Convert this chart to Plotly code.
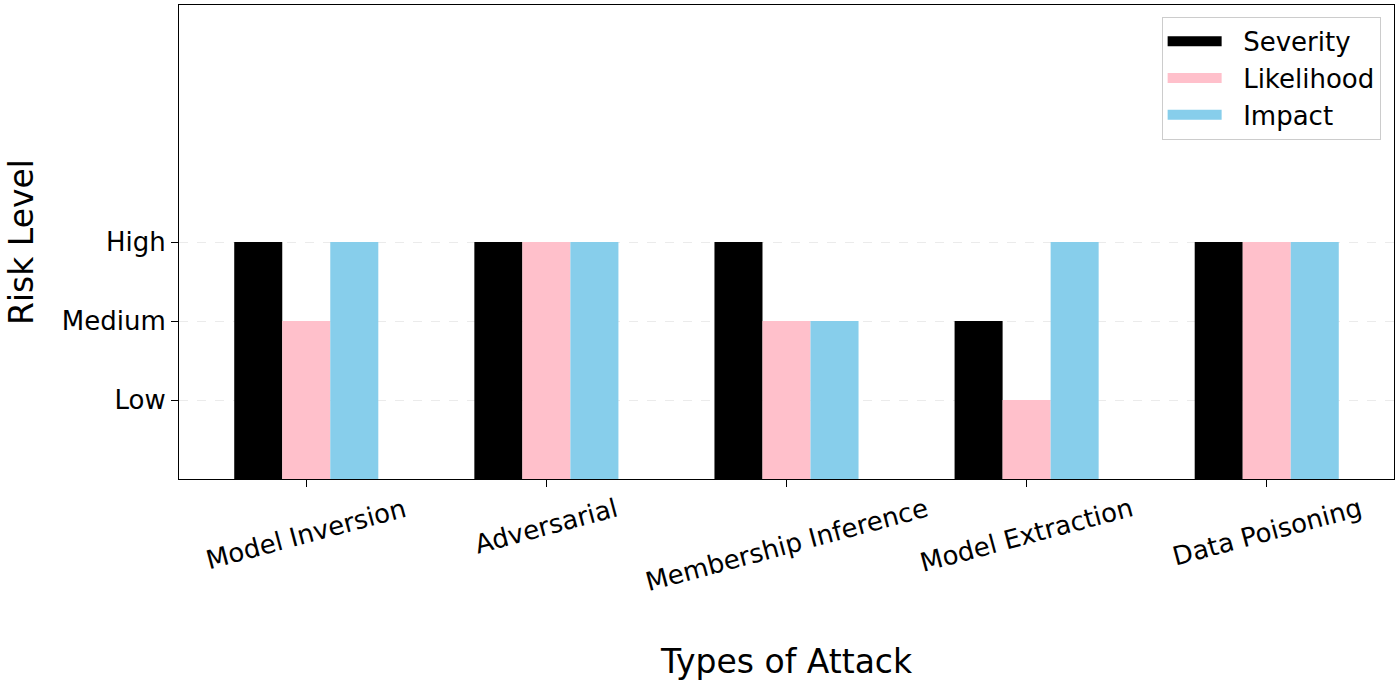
import plotly.graph_objects as go

categories = ["Model Inversion", "Adversarial", "Membership Inference", "Model Extraction", "Data Poisoning"]
severity = [3, 3, 3, 2, 3]
likelihood = [2, 3, 2, 1, 3]
impact = [3, 3, 2, 3, 3]
level_vals = [1, 2, 3]
level_text = ["Low", "Medium", "High"]

series = [("Severity", severity, "#000000"),
          ("Likelihood", likelihood, "#FFC0CB"),
          ("Impact", impact, "#87CEEB")]

FONT = "DejaVu Sans, Arial, sans-serif"

fig = go.Figure()
for name, vals, col in series:
    fig.add_trace(go.Bar(x=categories, y=vals, name=name, marker=dict(color=col, line=dict(width=0)),
                         showlegend=False))
for name, vals, col in series:
    fig.add_trace(go.Scatter(x=[None], y=[None], mode="lines", name="\u00a0\u00a0" + name,
                             line=dict(color=col, width=18)))

annotations = []
for c in categories:
    annotations.append(dict(x=c, xref="x", y=0, yref="paper", yshift=-11, text=c, showarrow=False,
                            textangle=-15, xanchor="center", yanchor="top",
                            font=dict(family=FONT, size=26, color="black")))
annotations.append(dict(x=0.5, xref="paper", y=-0.386, yref="paper", text="Types of Attack",
                        showarrow=False, xanchor="center", yanchor="middle",
                        font=dict(family=FONT, size=33, color="black")))
annotations.append(dict(x=-0.13, xref="paper", y=0.5, yref="paper", text="Risk Level",
                        showarrow=False, textangle=-90, xanchor="center", yanchor="middle",
                        font=dict(family=FONT, size=33, color="black")))

fig.update_layout(
    width=1400, height=684,
    margin=dict(l=179, r=6, t=5, b=205),
    plot_bgcolor="white", paper_bgcolor="white",
    barmode="group", bargap=0.4, bargroupgap=0,
    font=dict(family=FONT, size=26, color="black"),
    annotations=annotations,
    legend=dict(x=0.989, y=0.975, xanchor="right", yanchor="top",
                bgcolor="rgba(255,255,255,0.8)", bordercolor="#cccccc", borderwidth=1,
                font=dict(family=FONT, size=26, color="black"), itemwidth=54,
                tracegroupgap=0),
    xaxis=dict(range=[-0.53, 4.53], showticklabels=False, ticks="outside", ticklen=7,
               tickcolor="black", showline=True, linecolor="black", linewidth=1, mirror=True,
               showgrid=False, zeroline=False),
    yaxis=dict(range=[0, 6], tickvals=level_vals, ticktext=level_text, ticks="outside",
               ticklen=7, tickcolor="black", showline=True, linecolor="black", linewidth=1,
               mirror=True, showgrid=True, gridcolor="#ebebeb", griddash="dash", gridwidth=1,
               zeroline=False, tickfont=dict(family=FONT, size=26, color="black")),
)

fig.write_html("out.html", config={"displayModeBar": False},
               post_script="document.body.style.margin='0';")
